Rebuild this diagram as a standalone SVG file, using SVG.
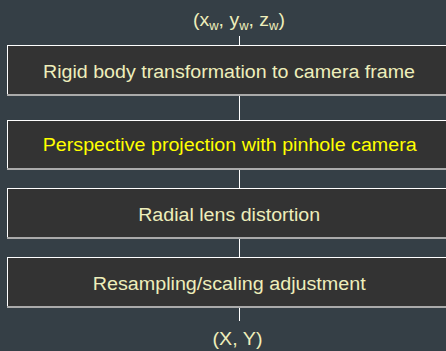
<svg xmlns="http://www.w3.org/2000/svg" width="446" height="351" viewBox="0 0 446 351">
<style>
.box{fill:#333333}
.hl{stroke:#ffffff;stroke-width:1}
.sh{stroke:#aaaaaa;stroke-width:2}
.t{font-family:"Liberation Sans",Arial,sans-serif;font-size:18px;fill:#eeeebb;text-anchor:middle}
.y{fill:#ffff00}
.c{stroke:#ffffff;stroke-width:1;fill:none}
</style>
<rect width="446" height="351" fill="#353f46"/>
<g id="connectors">
<line class="c" x1="239.5" y1="36" x2="239.5" y2="45"/>
<line class="c" x1="239.5" y1="95" x2="239.5" y2="120"/>
<line class="c" x1="239.5" y1="169" x2="239.5" y2="188"/>
<line class="c" x1="239.5" y1="238" x2="239.5" y2="257"/>
<line class="c" x1="239.5" y1="307" x2="239.5" y2="321"/>
</g>
<g id="input">
<text class="t" x="239" y="26" textLength="92" lengthAdjust="spacingAndGlyphs">(x<tspan font-size="12" dy="4">w</tspan><tspan dy="-4">, y</tspan><tspan font-size="12" dy="4">w</tspan><tspan dy="-4">, z</tspan><tspan font-size="12" dy="4">w</tspan><tspan dy="-4">)</tspan></text>
</g>
<g id="n1">
<rect class="box" x="7" y="45" width="445" height="50"/>
<line class="hl" x1="7.5" y1="45.5" x2="446" y2="45.5"/>
<line class="hl" x1="7.5" y1="45" x2="7.5" y2="95"/>
<line class="sh" x1="7" y1="95" x2="446" y2="95"/>
<text class="t" x="229" y="77.5" textLength="372" lengthAdjust="spacingAndGlyphs">Rigid body transformation to camera frame</text>
</g>
<g id="n2">
<rect class="box" x="7" y="120" width="445" height="49"/>
<line class="hl" x1="7.5" y1="120.5" x2="446" y2="120.5"/>
<line class="hl" x1="7.5" y1="120" x2="7.5" y2="169"/>
<line class="sh" x1="7" y1="169" x2="446" y2="169"/>
<text class="t y" x="229.7" y="151" textLength="374" lengthAdjust="spacingAndGlyphs">Perspective projection with pinhole camera</text>
</g>
<g id="n3">
<rect class="box" x="7" y="188" width="445" height="50"/>
<line class="hl" x1="7.5" y1="188.5" x2="446" y2="188.5"/>
<line class="hl" x1="7.5" y1="188" x2="7.5" y2="238"/>
<line class="sh" x1="7" y1="238" x2="446" y2="238"/>
<text class="t" x="229.2" y="220.5" textLength="182" lengthAdjust="spacingAndGlyphs">Radial lens distortion</text>
</g>
<g id="n4">
<rect class="box" x="7" y="257" width="445" height="50"/>
<line class="hl" x1="7.5" y1="257.5" x2="446" y2="257.5"/>
<line class="hl" x1="7.5" y1="257" x2="7.5" y2="307"/>
<line class="sh" x1="7" y1="307" x2="446" y2="307"/>
<text class="t" x="229.2" y="289.5" textLength="273" lengthAdjust="spacingAndGlyphs">Resampling/scaling adjustment</text>
</g>
<g id="output">
<text class="t" x="237.5" y="344.5" textLength="50" lengthAdjust="spacingAndGlyphs">(X, Y)</text>
</g>
</svg>
